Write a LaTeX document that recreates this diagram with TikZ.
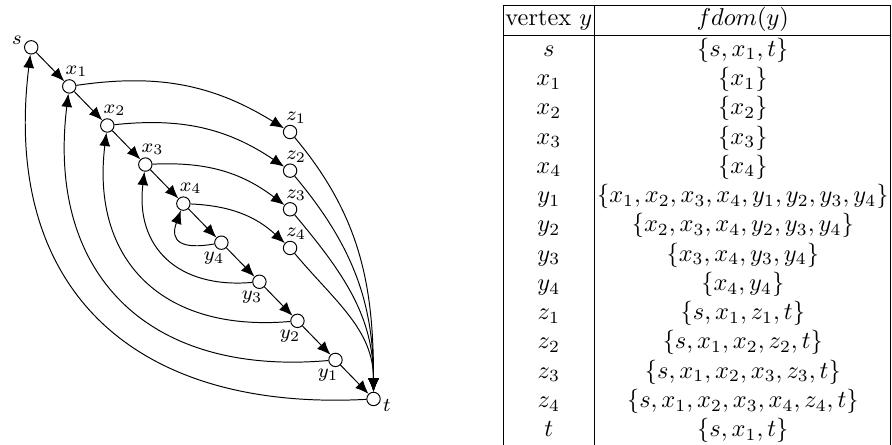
\documentclass[tikz,border=0pt]{standalone}
\usepackage{amsmath,amssymb}
\usetikzlibrary{arrows.meta}

\begin{document}
\begin{tikzpicture}[
    vertex/.style={circle, draw=black, fill=white, inner sep=0pt, minimum size=5.5pt},
    edge/.style={-{Latex[length=5.5pt,width=4.5pt]}},
    every label/.style={font=\footnotesize, inner sep=0.8pt}
]
\useasboundingbox (0,0) rectangle (12.853,6.412);

% chain s -> x1 -> ... -> y1 -> t
\foreach \n/\lab/\pos/\dx/\dy [count=\i from 0] in {s/s/left/0/3, x1/x_1/above/3/0, x2/x_2/above/3/0,
    x3/x_3/above/3/0, x4/x_4/above/3/0, y4/y_4/below/-3/0, y3/y_3/below/-3/0, y2/y_2/below/-3/0,
    y1/y_1/below/-3/0, t/t/right/0/-2.5} {
    \node[vertex, label={[xshift=\dx pt, yshift=\dy pt]\pos:$\lab$}] (\n)
        at ({0.45+0.548*\i},{5.73-0.563*\i}) {};
}
\foreach \i in {1,...,4} {
    \node[vertex, label={[xshift=2.5pt, yshift=-0.5pt]above:$z_\i$}] (z\i)
        at (4.18,{4.51-0.557*(\i-1)}) {};
}

\foreach \a/\b in {s/x1, x1/x2, x2/x3, x3/x4, x4/y4, y4/y3, y3/y2, y2/y1, y1/t} {
    \draw[edge] (\a) -- (\b);
}
\foreach \i in {1,...,3} {
    \draw[edge] (y\i) to[out=185, in=-97, looseness=1.25] (x\i);
}
\draw[edge] (y4) to[out=190, in=-110, looseness=1.8] (x4);
\foreach \i in {1,...,4} {
    \draw[edge] (x\i) to[bend left=20] (z\i);
    \draw[edge] (z\i) to[out=-50, in=90] (t);
}
\draw[edge] (t) to[out=183, in=-97, looseness=1.25] (s);

% table of fdom
\node[anchor=north east, inner sep=0pt] (fdom) at (12.845,6.354) {%
    \setlength{\tabcolsep}{1pt}%
    \begin{tabular}{|c|c|}
    \hline
    vertex $y$ & $fdom(y)$ \\ \hline
    $s$   & $\{s,x_1,t\}$ \\
    $x_1$ & $\{x_1\}$ \\
    $x_2$ & $\{x_2\}$ \\
    $x_3$ & $\{x_3\}$ \\
    $x_4$ & $\{x_4\}$ \\
    $y_1$ & $\{x_1,x_2,x_3,x_4,y_1,y_2,y_3,y_4\}$ \\
    $y_2$ & $\{x_2,x_3,x_4,y_2,y_3,y_4\}$ \\
    $y_3$ & $\{x_3,x_4,y_3,y_4\}$ \\
    $y_4$ & $\{x_4,y_4\}$ \\
    $z_1$ & $\{s,x_1,z_1,t\}$ \\
    $z_2$ & $\{s,x_1,x_2,z_2,t\}$ \\
    $z_3$ & $\{s,x_1,x_2,x_3,z_3,t\}$ \\
    $z_4$ & $\{s,x_1,x_2,x_3,x_4,z_4,t\}$ \\
    $t$   & $\{s,x_1,t\}$ \\ \hline
    \end{tabular}};
\end{tikzpicture}
\end{document}
